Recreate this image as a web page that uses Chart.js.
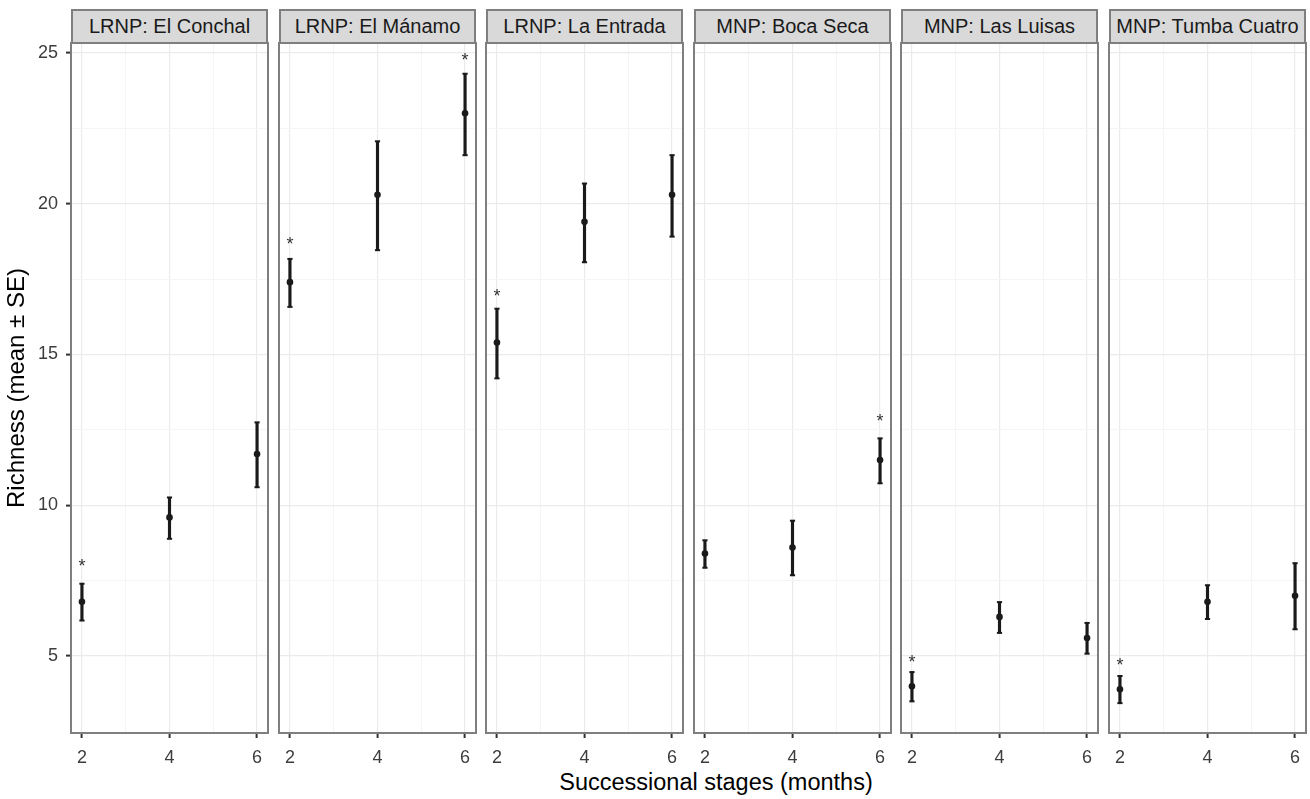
<!DOCTYPE html>
<html>
<head>
<meta charset="utf-8">
<script src="https://cdn.jsdelivr.net/npm/chart.js@4"></script>
<style>
  body { margin: 0; background: #fff; }
  #page { position: relative; width: 1310px; height: 799px; font-family: "Liberation Sans", Arial, sans-serif; }
  .panel { position: absolute; }
  .strip {
    position: absolute; box-sizing: border-box; height: 35px;
    background: #d9d9d9; border: 2px solid #7f7f7f;
    color: #1a1a1a; font-size: 20px; text-align: center; line-height: 31px; white-space: nowrap;
  }
  #xtitle { position: absolute; left: 99px; width: 1234px; top: 770px; text-align: center; font-size: 23.5px; line-height: 24px; color: #000; }
</style>
</head>
<body>
<div id="page">
  <div id="xtitle">Successional stages (months)</div>
</div>
<script>
// data
var stages = [2, 4, 6];
var sites = ["LRNP: El Conchal", "LRNP: El Mánamo", "LRNP: La Entrada",
             "MNP: Boca Seca", "MNP: Las Luisas", "MNP: Tumba Cuatro"];
var meanRich = [[6.8, 9.6, 11.7], [17.4, 20.3, 23.0], [15.4, 19.4, 20.3],
                [8.4, 8.6, 11.5], [4.0, 6.3, 5.6], [3.9, 6.8, 7.0]];
var lowerSE = [[6.18, 8.89, 10.6], [16.58, 18.46, 21.61], [14.21, 18.06, 18.91],
               [7.93, 7.68, 10.73], [3.50, 5.77, 5.08], [3.44, 6.23, 5.89]];
var upperSE = [[7.40, 10.26, 12.75], [18.17, 22.07, 24.31], [16.52, 20.67, 21.61],
               [8.84, 9.49, 12.22], [4.47, 6.79, 6.10], [4.34, 7.35, 8.08]];
// significance stars: stage and height of the label
var starStage = [[2], [2, 6], [2], [6], [2], [2]];
var starY = [[8.1], [18.77, 24.88], [17.03], [12.9], [4.92], [4.81]];

var xMajor = [2, 4, 6];
var xMinor = [3, 5];
var yMajor = [5, 10, 15, 20, 25];
var yMinor = [7.5, 12.5, 17.5, 22.5];

var FONT = '"Liberation Sans", Arial, sans-serif';
var page = document.getElementById('page');

// panel border + star labels
var panelDeco = {
  id: 'panelDeco',
  afterDraw: function(chart) {
    var a = chart.chartArea, ctx = chart.ctx, i = chart.options.plugins.panelDeco.site;
    ctx.save();
    ctx.fillStyle = '#333';
    ctx.font = '18px ' + FONT;
    ctx.textAlign = 'center';
    ctx.textBaseline = 'alphabetic';
    starStage[i].forEach(function(s, k) {
      var x = chart.scales.x.getPixelForValue(s);
      var y = chart.scales.y.getPixelForValue(starY[i][k]);
      ctx.fillText('*', x, y + 9);
    });
    ctx.strokeStyle = '#7f7f7f';
    ctx.lineWidth = 2;
    ctx.strokeRect(a.left, a.top, a.right - a.left, a.bottom - a.top);
    ctx.restore();
  }
};

function noPad(s) {
  s.paddingTop = 0; s.paddingBottom = 0; s.paddingLeft = 0; s.paddingRight = 0;
}

sites.forEach(function(site, i) {
  var L = Math.round(71 + i * 207.6);
  var padL = i === 0 ? 71 : 4;
  var W = padL + 197 + 4, H = 760;

  var strip = document.createElement('div');
  strip.className = 'strip';
  strip.style.left = L + 'px';
  strip.style.top = '9px';
  strip.style.width = '197px';
  strip.textContent = site;
  page.appendChild(strip);

  var box = document.createElement('div');
  box.className = 'panel';
  box.style.left = (L - padL) + 'px';
  box.style.top = '39px';
  var cv = document.createElement('canvas');
  cv.width = W; cv.height = H;
  box.appendChild(cv);
  page.appendChild(box);

  var means = stages.map(function(s, j) { return {x: s, y: meanRich[i][j]}; });
  var bars = stages.map(function(s, j) { return {x: s, y: [lowerSE[i][j], upperSE[i][j]]}; });
  var caps = [];
  stages.forEach(function(s, j) {
    caps.push({x: s, y: lowerSE[i][j]});
    caps.push({x: s, y: upperSE[i][j]});
  });

  new Chart(cv, {
    type: 'bar',
    data: {
      datasets: [
        { type: 'scatter', data: means, pointRadius: 3.3, pointStyle: 'circle',
          backgroundColor: '#1a1a1a', borderWidth: 0 },
        { type: 'scatter', data: caps, pointRadius: 2.6, pointStyle: 'line',
          borderColor: '#1a1a1a', borderWidth: 2 },
        { type: 'bar', data: bars, backgroundColor: '#1a1a1a', barThickness: 2.5,
          borderWidth: 0, borderSkipped: false, grouped: false }
      ]
    },
    options: {
      responsive: false,
      animation: false,
      events: [],
      layout: { autoPadding: false, padding: { left: 0, right: 4, top: 4, bottom: 0 } },
      plugins: { legend: { display: false }, tooltip: { enabled: false }, panelDeco: { site: i } },
      scales: {
        x: {
          type: 'linear', min: 1.75, max: 6.25, offset: false,
          afterBuildTicks: function(s) {
            s.ticks = xMajor.concat(xMinor).sort().map(function(v) { return {value: v}; });
          },
          afterFit: function(s) { s.height = 66; noPad(s); },
          border: { display: false },
          grid: {
            offset: false, tickLength: 5, tickWidth: 2,
            color: function(c) { return xMajor.indexOf(c.tick.value) >= 0 ? '#ebebeb' : '#f5f5f5'; },
            lineWidth: function(c) { return xMajor.indexOf(c.tick.value) >= 0 ? 1.2 : 1; },
            tickColor: function(c) { return xMajor.indexOf(c.tick.value) >= 0 ? '#333' : 'rgba(0,0,0,0)'; }
          },
          ticks: {
            autoSkip: false, maxRotation: 0, padding: 9, color: '#3d3d3d',
            font: { family: FONT, size: 18 },
            callback: function(v) { return xMajor.indexOf(v) >= 0 ? String(v) : ''; }
          }
        },
        y: {
          type: 'linear', min: 2.45, max: 25.33,
          afterBuildTicks: function(s) {
            s.ticks = yMajor.concat(yMinor).sort(function(a, b) { return a - b; })
              .map(function(v) { return {value: v}; });
          },
          afterFit: function(s) { s.width = padL; noPad(s); },
          border: { display: false },
          grid: {
            drawTicks: i === 0, tickLength: 5, tickWidth: 2,
            color: function(c) { return yMajor.indexOf(c.tick.value) >= 0 ? '#ebebeb' : '#f5f5f5'; },
            lineWidth: function(c) { return yMajor.indexOf(c.tick.value) >= 0 ? 1.2 : 1; },
            tickColor: function(c) { return yMajor.indexOf(c.tick.value) >= 0 ? '#333' : 'rgba(0,0,0,0)'; }
          },
          ticks: {
            display: i === 0, autoSkip: false, padding: 8, color: '#3d3d3d',
            font: { family: FONT, size: 18 },
            callback: function(v) { return yMajor.indexOf(v) >= 0 ? String(v) : ''; }
          },
          title: {
            display: i === 0, text: 'Richness (mean ± SE)', color: '#000',
            font: { family: FONT, size: 24 }, padding: { top: 3, bottom: 0 }
          }
        }
      }
    },
    plugins: [panelDeco]
  });
});
</script>
</body>
</html>
